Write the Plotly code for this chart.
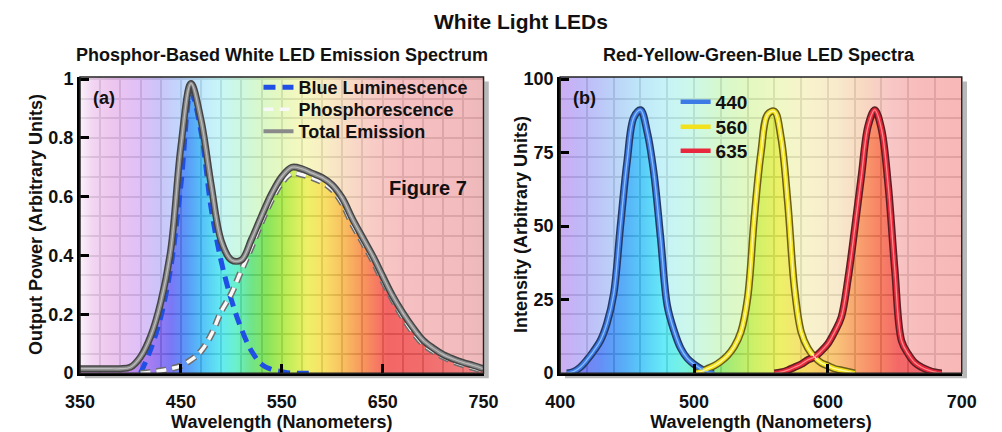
import plotly.graph_objects as go

# ---------------- data ----------------
# Panel (a): phosphor-based white LED, wavelength in nm
wl_a = [350, 360, 370, 380, 390, 400, 410, 420, 430, 440, 450, 460, 470, 480, 490,
        500, 510, 520, 530, 540, 550, 560, 570, 580, 590, 600, 610, 620, 630, 640,
        650, 660, 670, 680, 690, 700, 710, 720, 730, 740, 750]
total_emission = [0.015, 0.015, 0.015, 0.015, 0.015, 0.02, 0.055, 0.125, 0.24, 0.42, 0.77,
                  0.985, 0.86, 0.64, 0.45, 0.385, 0.385, 0.455, 0.535, 0.61, 0.668, 0.70,
                  0.695, 0.68, 0.665, 0.64, 0.595, 0.525, 0.462, 0.40, 0.33, 0.262, 0.205,
                  0.155, 0.112, 0.085, 0.063, 0.048, 0.036, 0.026, 0.015]
blue_luminescence = [None, None, None, None, None, None, 0.0, 0.08, 0.19, 0.36, 0.64,
                     0.955, 0.82, 0.56, 0.38, 0.25, 0.15, 0.075, 0.03, 0.012, 0.005,
                     0.0, 0.0, 0.0, None, None, None, None, None, None, None, None, None,
                     None, None, None, None, None, None, None, None]
phosphorescence = [None, None, None, None, None, None, 0.0, 0.003, 0.008, 0.015, 0.025,
                   0.045, 0.075, 0.13, 0.21, 0.27, 0.35, 0.43, 0.515, 0.59, 0.648, 0.68,
                   0.675, 0.665, 0.65, 0.625, 0.578, 0.507, 0.447, 0.385, 0.315, 0.25,
                   0.19, 0.14, 0.10, 0.075, 0.055, 0.04, 0.028, 0.018, 0.01]

# Panel (b): RGB(Y) LED spectra, wavelength in nm
wl_440 = [405, 410, 415, 420, 425, 430, 435, 440, 445, 450, 455, 460, 465, 470, 475,
          480, 485, 490, 495, 500, 505, 510, 515]
led_440 = [0, 0.5, 2, 4.5, 7.5, 11, 17, 27, 50, 72, 87, 89.5, 82, 68, 46,
           23, 14.5, 8.5, 5, 3, 1.5, 0.3, 0]
wl_560 = [500, 505, 510, 515, 520, 525, 530, 535, 540, 545, 550, 555, 560, 565, 570,
          575, 580, 585, 590, 595, 600, 605, 610, 615, 620]
led_560 = [0, 0.5, 1.5, 2.5, 4, 6, 9, 14, 25.5, 53, 75, 88, 89, 80, 58,
           29, 14, 8.5, 5.5, 3.5, 2.5, 1.5, 1, 0.5, 0]
wl_635 = [560, 565, 570, 575, 580, 585, 590, 595, 600, 605, 610, 615, 620, 625, 630,
          635, 640, 645, 650, 655, 660, 665, 670, 675, 680, 685]
led_635 = [0, 0.3, 1, 2, 3, 4.5, 5.5, 7.5, 10, 14, 19, 32, 49, 67, 84,
           89.5, 83, 64, 35, 11, 6.5, 3.5, 2, 1, 0.3, 0]

ticks_a = [350, 450, 550, 650, 750]
ticks_b = [400, 500, 600, 700]

# ---------------- styling helpers ----------------
FONT = "Liberation Sans"
INK = "#111111"
FILL_OP = 0.86


def pre(hexc):
    """rgba colour that shows as hexc over white when painted at FILL_OP"""
    h = hexc.lstrip("#")
    rgb = [int(h[i:i + 2], 16) for i in (0, 2, 4)]
    out = [max(0, min(255, round((v - (1 - FILL_OP) * 255) / FILL_OP))) for v in rgb]
    return "rgba(%d,%d,%d,%.2f)" % (out[0], out[1], out[2], FILL_OP)


def cscale(stops, lo, hi):
    return [[(w - lo) / (hi - lo), pre(c)] for w, c in stops]


sat_a = [(350, '#e8b0e8'), (395, '#c890ec'), (420, '#a07cf2'), (438, '#7a78f6'),
         (452, '#5c98f8'), (468, '#56c4f8'), (486, '#64eaf2'), (500, '#6af0cc'),
         (515, '#70e488'), (530, '#8ae45c'), (550, '#c0ee58'), (568, '#eef068'),
         (585, '#f8e068'), (605, '#f8bc60'), (625, '#f8905e'), (645, '#f46666'),
         (680, '#f26c6c'), (750, '#ee8888')]
pale_a = [(350, '#faf2fa'), (362, '#f2d6f2'), (380, '#eec6ee'), (405, '#e0c0f6'),
          (425, '#ccc4f8'), (445, '#c2d6fc'), (465, '#c2e8fc'), (485, '#c8f6f6'),
          (505, '#cef8e0'), (525, '#daf8ca'), (545, '#e8f8c0'), (565, '#f6f8c0'),
          (585, '#f8eec4'), (605, '#f8dec6'), (630, '#f8ccc6'), (660, '#f6c0c2'),
          (720, '#f2bcbe'), (750, '#eab6b8')]
sat_b = [(400, '#a880ea'), (415, '#7c80f2'), (430, '#6490f6'), (445, '#58acf8'),
         (460, '#5accf8'), (475, '#68eaf8'), (490, '#78f2e0'), (505, '#78ec98'),
         (520, '#a0ea78'), (540, '#ccf068'), (560, '#eef068'), (580, '#f8dc78'),
         (600, '#f8c478'), (615, '#f8a470'), (630, '#f88666'), (645, '#f46868'),
         (660, '#f0686e'), (700, '#f07884')]
pale_b = [(400, '#ccaef2'), (415, '#c0b8f8'), (435, '#bccef8'), (455, '#bee4f8'),
          (475, '#c6f2f8'), (495, '#ccf8ea'), (515, '#d6f8ce'), (540, '#e4f8c0'),
          (560, '#f0f8c6'), (580, '#f8f2cc'), (600, '#f8eacc'), (620, '#f8d8c2'),
          (640, '#f8c6c6'), (660, '#f8bcbc'), (700, '#f8b6b6')]

A_LO, A_HI = wl_a[0], wl_a[-1]
B_LO, B_HI = ticks_b[0], ticks_b[-1]
A_TOP, B_TOP = 1.007, 100.7

fig = go.Figure()
nolg = dict(showlegend=False, hoverinfo="skip")

# ---------- panel (a) ----------
fig.add_trace(go.Scatter(x=wl_a, y=total_emission, mode="lines", line=dict(width=0, shape="spline"),
                         fill="tozeroy",
                         fillgradient=dict(type="horizontal", colorscale=cscale(sat_a, A_LO, A_HI),
                                           start=A_LO, stop=A_HI),
                         xaxis="x", yaxis="y", **nolg))
fig.add_trace(go.Scatter(x=[A_LO, A_HI], y=[A_TOP + 0.05] * 2, mode="lines", line=dict(width=0),
                         fill="tonexty",
                         fillgradient=dict(type="horizontal", colorscale=cscale(pale_a, A_LO, A_HI),
                                           start=A_LO, stop=A_HI),
                         xaxis="x", yaxis="y", **nolg))
fig.add_trace(go.Scatter(x=wl_a, y=blue_luminescence, mode="lines", name="Blue Luminescence",
                         line=dict(color="#1f4fe4", width=5, dash="12px,7px", shape="spline"),
                         xaxis="x", yaxis="y", legend="legend", hoverinfo="skip"))
fig.add_trace(go.Scatter(x=wl_a, y=phosphorescence, mode="lines",
                         line=dict(color="#6e6e6e", width=6.5, dash="10px,6px", shape="spline"),
                         xaxis="x", yaxis="y", **nolg))
fig.add_trace(go.Scatter(x=wl_a, y=phosphorescence, mode="lines", name="Phosphorescence",
                         line=dict(color="#f8f8f8", width=3.5, dash="10px,6px", shape="spline"),
                         xaxis="x", yaxis="y", legend="legend3", hoverinfo="skip"))
fig.add_trace(go.Scatter(x=wl_a, y=total_emission, mode="lines",
                         line=dict(color="#454545", width=7, shape="spline"),
                         xaxis="x", yaxis="y", **nolg))
fig.add_trace(go.Scatter(x=wl_a, y=total_emission, mode="lines", name="Total Emission",
                         line=dict(color="#8a8a8a", width=4, shape="spline"),
                         xaxis="x", yaxis="y", legend="legend4", hoverinfo="skip"))
fig.add_trace(go.Scatter(x=wl_a, y=total_emission, mode="lines",
                         line=dict(color="#bdbdbd", width=1.2, shape="spline"),
                         xaxis="x", yaxis="y", **nolg))

# ---------- panel (b) ----------
leds = [("440", wl_440, led_440, "#263a66", "#3c7be6", "#8cc0ff", "legend2"),
        ("560", wl_560, led_560, "#6b5e1a", "#f2e21e", "#fffaa8", "legend5"),
        ("635", wl_635, led_635, "#5c1f24", "#e8283c", "#ff8c8c", "legend6")]
for name, xs, ys, dark, mid, hi, lg in leds:
    fig.add_trace(go.Scatter(x=xs, y=ys, mode="lines", line=dict(width=0, shape="spline"),
                             fill="tozeroy",
                             fillgradient=dict(type="horizontal", colorscale=cscale(sat_b, B_LO, B_HI),
                                               start=B_LO, stop=B_HI),
                             xaxis="x2", yaxis="y2", **nolg))
# upper envelope of the three spectra, so the pale background sits above them
env = {}
for _, xs, ys, *_rest in leds:
    for xv, yv in zip(xs, ys):
        env[xv] = max(env.get(xv, 0), yv)
env_x = sorted(set(env) | {B_LO, B_HI})
env_y = [env.get(xv, 0) for xv in env_x]
fig.add_trace(go.Scatter(x=env_x, y=env_y, mode="lines", line=dict(width=0, shape="spline"),
                         xaxis="x2", yaxis="y2", **nolg))
fig.add_trace(go.Scatter(x=[B_LO, B_HI], y=[B_TOP + 5] * 2, mode="lines", line=dict(width=0),
                         fill="tonexty",
                         fillgradient=dict(type="horizontal", colorscale=cscale(pale_b, B_LO, B_HI),
                                           start=B_LO, stop=B_HI),
                         xaxis="x2", yaxis="y2", **nolg))
for name, xs, ys, dark, mid, hi, lg in leds:
    fig.add_trace(go.Scatter(x=xs, y=ys, mode="lines", line=dict(color=dark, width=7.5, shape="spline"),
                             xaxis="x2", yaxis="y2", **nolg))
for name, xs, ys, dark, mid, hi, lg in leds:
    fig.add_trace(go.Scatter(x=xs, y=ys, mode="lines", name=name,
                             line=dict(color=mid, width=4.5, shape="spline"),
                             xaxis="x2", yaxis="y2", legend=lg, hoverinfo="skip"))
for name, xs, ys, dark, mid, hi, lg in leds:
    fig.add_trace(go.Scatter(x=xs, y=ys, mode="lines", line=dict(color=hi, width=1.3, shape="spline"),
                             xaxis="x2", yaxis="y2", **nolg))

# ---------------- layout ----------------
W, H = 1002, 432
XD_A = [67 / W, 483 / W]
XD_B = [562 / W, 976 / W]
YD = [(H - 381) / H, (H - 72) / H]

tickfont = dict(family=FONT, size=18, color=INK, weight="bold")
titlefont = dict(family=FONT, size=18, color=INK, weight="bold")
GRID = dict(gridcolor="#5c5c5c", gridwidth=2)

common_axis = dict(ticks="inside", ticklen=9, tickwidth=3, tickcolor="black",
                   showline=True, linewidth=3, linecolor="black", mirror=False,
                   zeroline=False, tickfont=tickfont, layer="above traces", fixedrange=True)


def lgd(x, y, size):
    return dict(x=x / W, xanchor="left", y=(H - y) / H, yanchor="middle",
                bgcolor="rgba(0,0,0,0)", borderwidth=0,
                font=dict(family=FONT, size=size, color=INK, weight="bold"))


fig.update_layout(
    width=W, height=H, margin=dict(l=0, r=0, t=0, b=0),
    paper_bgcolor="white", plot_bgcolor="white",
    font=dict(family=FONT, color=INK),
    xaxis=dict(domain=XD_A, range=[A_LO, A_HI], tickvals=ticks_a, anchor="y",
               showgrid=True, **GRID, minor=dict(dtick=20, tick0=A_LO, showgrid=True, **GRID),
               title=dict(text="Wavelength (Nanometers)", font=titlefont, standoff=1),
               ticklabelstandoff=10, **common_axis),
    yaxis=dict(domain=YD, range=[0, A_TOP], dtick=0.2, tick0=0, anchor="x",
               showgrid=True, **GRID, minor=dict(dtick=1 / 15, tick0=0, showgrid=True, **GRID),
               **common_axis),
    xaxis2=dict(domain=XD_B, range=[B_LO, B_HI], tickvals=ticks_b, anchor="y2",
                showgrid=True, **GRID, minor=dict(dtick=20, tick0=B_LO, showgrid=True, **GRID),
                title=dict(text="Wavelength (Nanometers)", font=titlefont, standoff=1),
                ticklabelstandoff=10, **common_axis),
    yaxis2=dict(domain=YD, range=[0, B_TOP], dtick=25, tick0=0, anchor="x2",
                showgrid=False, minor=dict(dtick=100 / 15, tick0=0, showgrid=True, **GRID),
                **common_axis),
    legend=lgd(251, 83, 18),
    legend3=lgd(251, 106, 18),
    legend4=lgd(251, 129, 18),
    legend2=lgd(681, 98, 19),
    legend5=lgd(681, 124, 19),
    legend6=lgd(681, 149, 19),
)

# frame (thin top/right border) and drop shadow
shapes = []
for xr, yr in (("x", "y"), ("x2", "y2")):
    shapes.append(dict(type="rect", xref=f"{xr} domain", yref=f"{yr} domain",
                       x0=0, x1=1, y0=0, y1=1, line=dict(color="#222222", width=1.5), layer="above"))
    shapes.append(dict(type="rect", xref=f"{xr} domain", yref=f"{yr} domain",
                       x0=1.002, x1=1.013, y0=-0.017, y1=0.985,
                       fillcolor="rgba(0,0,0,0.28)", line=dict(width=0), layer="below"))
    shapes.append(dict(type="rect", xref=f"{xr} domain", yref=f"{yr} domain",
                       x0=0.012, x1=1.002, y0=-0.017, y1=-0.004,
                       fillcolor="rgba(0,0,0,0.28)", line=dict(width=0), layer="below"))
fig.update_layout(shapes=shapes)


def ann(text, x, y, size, angle=0):
    fig.add_annotation(text=text, x=x / W, y=(H - y) / H, xref="paper", yref="paper",
                       showarrow=False, xanchor="center", yanchor="middle", textangle=angle,
                       font=dict(family=FONT, size=size, color=INK, weight="bold"))


ann("White Light LEDs", 522, 14, 21)
ann("Phosphor-Based White LED Emission Spectrum", 275, 49, 18)
ann("Red-Yellow-Green-Blue LED Spectra", 767, 49, 18)
ann("(a)", 92, 94, 18)
ann("(b)", 587, 94, 18)
ann("Figure 7", 426, 188, 20)
ann("Output Power (Arbitrary Units)", 21, 226, 18, -90)
ann("Intensity (Arbitrary Units)", 521, 226, 18, -90)

fig.write_html("out.html", config={"displayModeBar": False},
               post_script="document.body.style.margin='0';document.body.style.overflow='hidden';")
